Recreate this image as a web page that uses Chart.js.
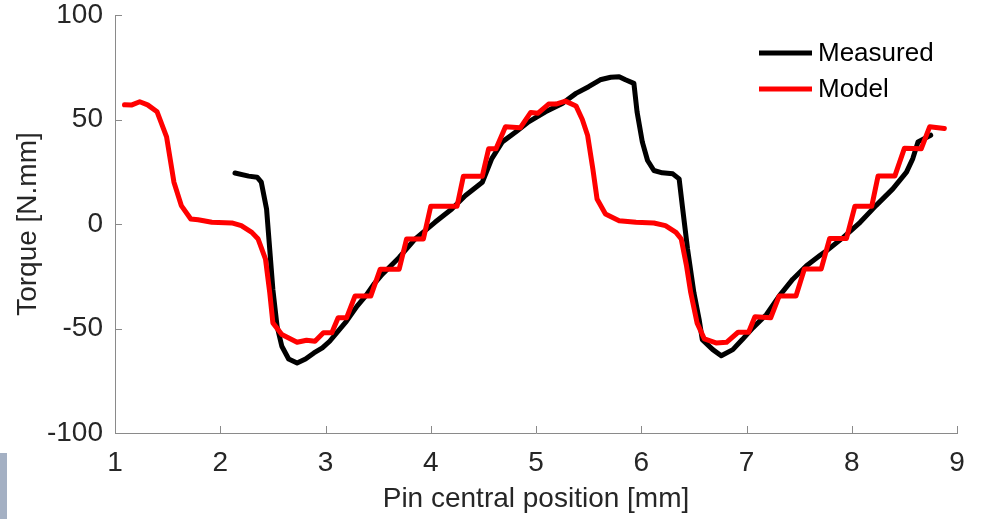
<!DOCTYPE html>
<html>
<head>
<meta charset="utf-8">
<title>Torque vs pin position</title>
<script src="https://cdn.jsdelivr.net/npm/chart.js@4.4.1/dist/chart.umd.min.js"></script>
<style>
  html, body { margin: 0; padding: 0; background: #fff; }
  #wrap { position: relative; width: 981px; height: 519px; }
  #side { position: absolute; left: 0; top: 453px; width: 7px; height: 66px; background: #a4b0c3; }
</style>
</head>
<body>
<div id="wrap">
  <canvas id="grafico" width="981" height="519"></canvas>
  <div id="side"></div>
</div>
<script>
// ===== DADOS =====
const xTicks = [1, 2, 3, 4, 5, 6, 7, 8, 9];
const yTicks = [-100, -50, 0, 50, 100];

const medidoX = [2.14, 2.27, 2.35, 2.39, 2.44, 2.47, 2.50, 2.54, 2.585, 2.65, 2.73, 2.81, 2.89, 2.97,
  3.04, 3.12, 3.20, 3.30, 3.38, 3.46, 3.54, 3.70, 3.85, 4.04, 4.20, 4.33, 4.49, 4.58, 4.68, 4.81,
  4.93, 5.09, 5.25, 5.38, 5.50, 5.61, 5.71, 5.79, 5.85, 5.93, 5.96, 6.01, 6.06, 6.12, 6.20, 6.30,
  6.36, 6.39, 6.44, 6.50, 6.55, 6.58, 6.68, 6.76, 6.87, 6.96, 7.06, 7.19, 7.31, 7.44, 7.57, 7.70,
  7.76, 7.92, 8.08, 8.23, 8.39, 8.52, 8.58, 8.63, 8.75];
const medidoY = [24.4, 22.9, 22.4, 20, 7.2, -12, -31.3, -48.9, -58.5, -64.6, -66.5, -64.6, -61.7, -59.3,
  -56.1, -51.3, -46.5, -39.3, -34.5, -28.8, -24, -16, -7.2, 0.8, 7.2, 13.6, 20, 31.3, 39.3, 44.1,
  48.9, 53.7, 57.7, 62.5, 65.7, 69, 70.2, 70.5, 69, 67.3, 53.7, 39.3, 30.4, 25.6, 24.5, 24,
  21.6, 8.8, -12, -32.8, -45.7, -55.3, -60.1, -63, -60.1, -55.3, -49.7, -43.3, -34.5, -26.4, -20, -15,
  -12.8, -6.4, 0.8, 8.8, 16.8, 24.8, 31.3, 39.3, 42.5];

const modeloX = [1.09, 1.155, 1.235, 1.31, 1.40, 1.49, 1.56, 1.63, 1.72, 1.79, 1.92, 2.11, 2.20, 2.30,
  2.36, 2.43, 2.47, 2.50, 2.585, 2.73, 2.82, 2.90, 2.98, 3.06, 3.12, 3.20, 3.28, 3.43, 3.52, 3.70,
  3.77, 3.93, 4.00, 4.25, 4.31, 4.49, 4.55, 4.62, 4.71, 4.85, 4.95, 5.02, 5.12, 5.19, 5.28, 5.38,
  5.44, 5.49, 5.54, 5.58, 5.66, 5.79, 5.95, 6.12, 6.23, 6.33, 6.38, 6.43, 6.47, 6.53, 6.60, 6.71,
  6.81, 6.92, 7.02, 7.08, 7.23, 7.31, 7.47, 7.55, 7.71, 7.79, 7.95, 8.03, 8.19, 8.25, 8.41, 8.50,
  8.66, 8.74, 8.88];
const modeloY = [57, 56.9, 58.5, 57, 53.7, 41.7, 20, 8.8, 2.4, 2, 0.8, 0.5, -0.8, -4,
  -7.2, -16.8, -32.8, -47.3, -52.9, -56.6, -55.6, -56.1, -52, -52, -44.9, -44.9, -34.5, -34.5, -21.6, -21.6,
  -7.2, -7.2, 8.5, 8.5, 22.9, 22.9, 36, 36, 46.5, 46, 53.4, 53, 57.4, 57.4, 58.8, 56.5,
  50, 42.5, 26.4, 12, 4.8, 1.6, 0.8, 0.5, -0.8, -4, -7.2, -20, -32.8, -47.3, -55, -56.9,
  -56.6, -51.8, -51.8, -44.4, -44.9, -34.5, -34.5, -21.5, -21.5, -6.9, -6.9, 8.5, 8.5, 23, 23, 36.2,
  36, 46.5, 45.7];

const series = [
  { nome: "Measured", xs: medidoX, ys: medidoY, cor: "#000000" },
  { nome: "Model", xs: modeloX, ys: modeloY, cor: "#ff0000" },
];

const FONTE = '"Liberation Sans", Arial, sans-serif';
const COR_EIXO = "#8a8a8a";
const COR_TEXTO = "#262626";

// ===== TICKS PARA DENTRO (estilo MATLAB) =====
const ticksInternos = {
  id: "ticksInternos",
  afterDraw(chart) {
    const { ctx, chartArea, scales } = chart;
    const len = 7;
    ctx.save();
    ctx.strokeStyle = COR_EIXO;
    ctx.lineWidth = 1;
    ctx.beginPath();
    xTicks.forEach(v => {
      const px = Math.round(scales.x.getPixelForValue(v)) + 0.5;
      ctx.moveTo(px, chartArea.bottom);
      ctx.lineTo(px, chartArea.bottom - len);
    });
    yTicks.forEach(v => {
      const py = Math.round(scales.y.getPixelForValue(v)) + 0.5;
      ctx.moveTo(chartArea.left, py);
      ctx.lineTo(chartArea.left + len, py);
    });
    ctx.stroke();
    ctx.restore();
  }
};

// ===== LEGENDA =====
const legenda = {
  id: "legenda",
  afterDraw(chart) {
    const { ctx } = chart;
    ctx.save();
    ctx.font = "26px " + FONTE;
    ctx.textBaseline = "middle";
    ctx.fillStyle = "#000";
    chart.data.datasets.forEach((ds, i) => {
      const y = 53 + i * 36;
      ctx.strokeStyle = ds.borderColor;
      ctx.lineWidth = 5;
      ctx.beginPath();
      ctx.moveTo(759, y);
      ctx.lineTo(812, y);
      ctx.stroke();
      ctx.fillText(ds.label, 818, y + 1);
    });
    ctx.restore();
  }
};

// ===== GRÁFICO =====
const ctx = document.getElementById("grafico").getContext("2d");

new Chart(ctx, {
  type: "line",
  data: {
    datasets: series.map((s, i) => ({
      label: s.nome,
      data: s.xs.map((x, k) => ({ x, y: s.ys[k] })),
      borderColor: s.cor,
      backgroundColor: s.cor,
      borderWidth: 5,
      borderJoinStyle: "round",
      borderCapStyle: "round",
      pointRadius: 0,
      tension: 0,
      fill: false,
      order: 2 - i, // modelo por cima
    })),
  },
  options: {
    responsive: false,
    animation: false,
    layout: { padding: { top: 15, right: 24, left: 0, bottom: 0 } },
    plugins: {
      legend: { display: false },
      tooltip: { enabled: false },
    },
    scales: {
      x: {
        type: "linear",
        min: 1,
        max: 9,
        afterFit: s => { s.height = 86; s.paddingLeft = 0; s.paddingRight = 0; },
        afterBuildTicks: s => { s.ticks = xTicks.map(v => ({ value: v })); },
        border: { display: true, color: COR_EIXO, width: 1 },
        grid: { drawOnChartArea: false, drawTicks: false },
        ticks: {
          color: COR_TEXTO,
          padding: 16,
          maxRotation: 0,
          font: { family: FONTE, size: 28, lineHeight: 1 },
        },
        title: {
          display: true,
          text: "Pin central position [mm]",
          color: COR_TEXTO,
          font: { family: FONTE, size: 28, lineHeight: 1.2 },
          padding: { top: 0, bottom: 3 },
        },
      },
      y: {
        type: "linear",
        min: -100,
        max: 100,
        afterFit: s => { s.width = 115; s.paddingTop = 0; s.paddingBottom = 0; },
        afterBuildTicks: s => { s.ticks = yTicks.map(v => ({ value: v })); },
        border: { display: true, color: COR_EIXO, width: 1 },
        grid: { drawOnChartArea: false, drawTicks: false },
        ticks: {
          color: COR_TEXTO,
          padding: 12,
          font: { family: FONTE, size: 28, lineHeight: 1 },
        },
        title: {
          display: true,
          text: "Torque [N.mm]",
          color: COR_TEXTO,
          font: { family: FONTE, size: 28, lineHeight: 1.2 },
          padding: { top: 11, bottom: 0 },
        },
      },
    },
  },
  plugins: [ticksInternos, legenda],
});
</script>
</body>
</html>
